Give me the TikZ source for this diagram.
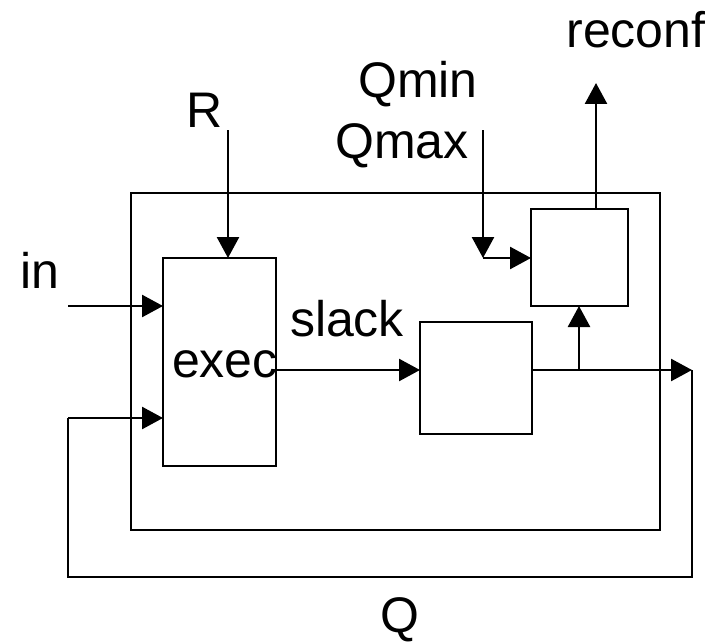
\documentclass[tikz,border=0pt]{standalone}
\usepackage{fontspec}
\setmainfont{Liberation Sans}
\usetikzlibrary{arrows.meta}
\tikzset{
  lbl/.style={font=\fontsize{50}{56}\selectfont, inner sep=0pt, anchor=base},
  blk/.style={draw, line width=2.6pt, inner sep=0pt, outer sep=0pt},
  wire/.style={line width=2.6pt},
  arr/.style={wire, -{Triangle[length=21pt,width=22pt]}}
}
\begin{document}
\begin{tikzpicture}[x=1pt,y=-1pt]
\useasboundingbox (0,0) rectangle (718,642);
% boxes
\node[blk, minimum width=529pt, minimum height=337pt] (outer) at (395.5,361.5) {};
\node[blk, fill=white, minimum width=113pt, minimum height=208pt] (exec) at (219.5,362) {};
\node[blk, fill=white, minimum width=112pt, minimum height=112pt] (mid) at (476,378) {};
\node[blk, fill=white, minimum width=97pt, minimum height=97pt] (ctl) at (579.5,257.5) {};
% labels
\node[lbl] (tReconf) at (636,48) {reconf};
\node[lbl] (tQmin) at (418,97) {Qmin};
\node[lbl] (tQmax) at (402,158) {Qmax};
\node[lbl] (tR) at (205,127) {R};
\node[lbl] (tIn) at (40,288) {in};
\node[lbl] (tSlack) at (347,336) {slack};
\node[lbl] (tExec) at (225,377) {exec};
\node[lbl] (tQ) at (400,632) {Q};
% coordinates
\coordinate (rs) at (228,130);
\coordinate (ins) at (68,306);
\coordinate (qs) at (483,130);
\coordinate (qc) at (483,258);
\coordinate (sl) at (276,370);
\coordinate (junc) at (579,370);
\coordinate (qtip) at (692,370);
\coordinate (fb1) at (692,577);
\coordinate (fb2) at (68,577);
\coordinate (fb3) at (68,418);
\coordinate (rc) at (596,83);
% connectors
\draw[arr] (rs) -- (rs |- exec.north);
\draw[arr] (ins) -- (ins -| exec.west);
\draw[arr] (sl) -- (sl -| mid.west);
\draw[wire] (sl -| mid.east) -- (junc);
\draw[arr] (junc) -- (qtip);
\draw[wire] (qtip) -- (fb1) -- (fb2) -- (fb3);
\draw[arr] (fb3) -- (fb3 -| exec.west);
\draw[arr] (junc) -- (junc |- ctl.south);
\draw[arr] (rc |- ctl.north) -- (rc);
\draw[arr] (qs) -- (qc);
\draw[arr] (qc) -- (qc -| ctl.west);
\end{tikzpicture}
\end{document}
